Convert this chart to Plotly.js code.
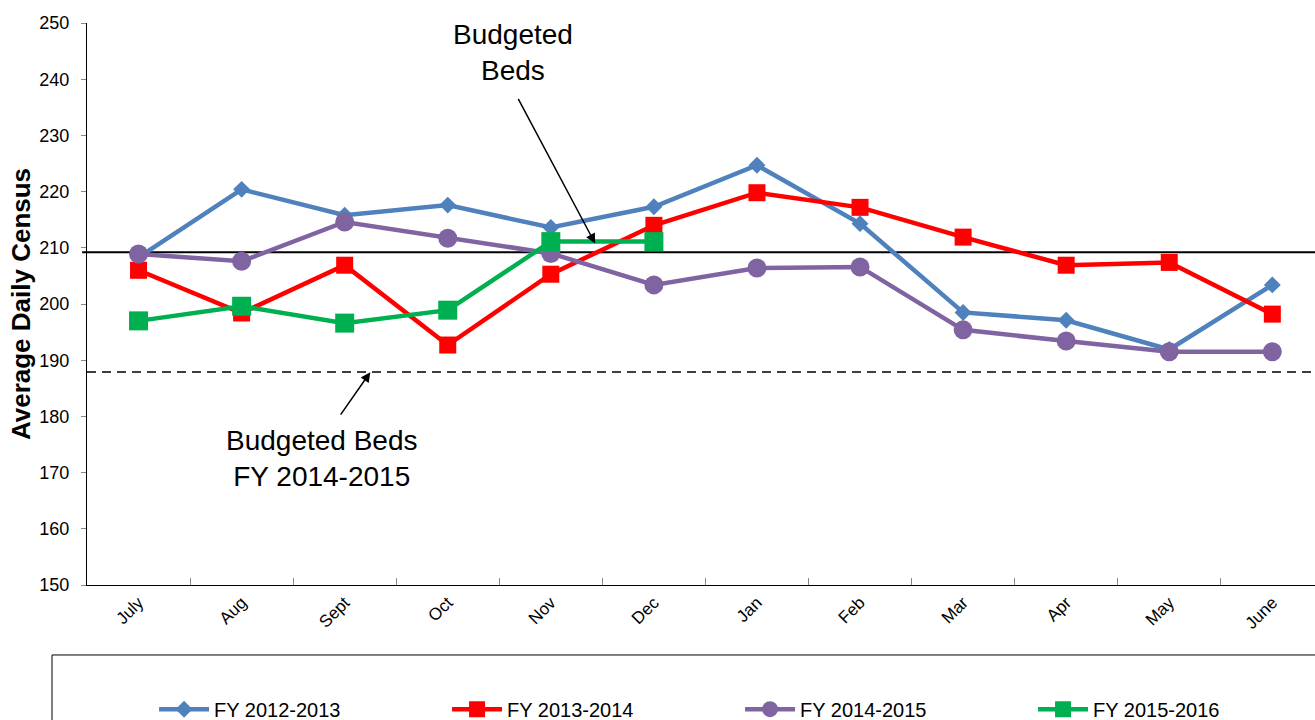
<!DOCTYPE html>
<html>
<head>
<meta charset="utf-8">
<script src="https://cdn.plot.ly/plotly-3.0.1.min.js"></script>
<style>
html, body { margin: 0; padding: 0; background: #fff; overflow: hidden; }
#chart { width: 1315px; height: 720px; }
</style>
</head>
<body>
<div id="chart"></div>
<script>
// ---- Data ----
const months = ["July", "Aug", "Sept", "Oct", "Nov", "Dec", "Jan", "Feb", "Mar", "Apr", "May", "June"];
const fy2012_2013 = [208.3, 220.4, 215.8, 217.6, 213.6, 217.3, 224.7, 214.3, 198.5, 197.1, 191.9, 203.4];
const fy2013_2014 = [206.0, 198.4, 206.9, 192.7, 205.3, 214.0, 219.8, 217.2, 211.9, 206.9, 207.4, 198.2];
const fy2014_2015 = [208.9, 207.6, 214.6, 211.7, 209.0, 203.4, 206.4, 206.6, 195.4, 193.4, 191.5, 191.5];
const fy2015_2016 = [197.0, 199.6, 196.6, 198.9, 211.1, 211.1];
const budgetedBeds = 209.2;
const budgetedBeds2014_2015 = 187.9;

const FONT = "Liberation Sans, Arial, sans-serif";

function series(name, y, color, symbol, size) {
  return {
    type: "scatter", mode: "lines+markers", name: name,
    x: months.slice(0, y.length), y: y,
    line: { color: color, width: 4.5 },
    marker: { color: color, symbol: symbol, size: size },
    hoverinfo: "x+y+name"
  };
}

const traces = [
  series("FY 2012-2013", fy2012_2013, "#4F81BD", "diamond", 13),
  series("FY 2013-2014", fy2013_2014, "#FF0000", "square", 17),
  series("FY 2014-2015", fy2014_2015, "#8064A2", "circle", 19),
  series("FY 2015-2016", fy2015_2016, "#00B050", "square", 19)
];

const layout = {
  width: 1315, height: 720,
  margin: { l: 87, r: 0, t: 23, b: 135, autoexpand: false },
  paper_bgcolor: "#fff", plot_bgcolor: "#fff",
  font: { family: FONT, color: "#000" },
  showlegend: true,
  legend: {
    orientation: "h", x: 0.0546, xanchor: "left", y: -0.221, yanchor: "middle",
    itemwidth: 50, entrywidth: 228, entrywidthmode: "pixels",
    font: { family: FONT, size: 20, color: "#000" },
    bgcolor: "rgba(0,0,0,0)", borderwidth: 0, traceorder: "normal"
  },
  xaxis: {
    type: "category", categoryorder: "array", categoryarray: months,
    range: [-0.5, 11.414],
    showline: true, linecolor: "#000", linewidth: 1,
    ticks: "inside", tickson: "boundaries", ticklen: 7, tickcolor: "#888",
    tickangle: -45, tickfont: { family: FONT, size: 17, color: "#000" },
    showgrid: false, zeroline: false, fixedrange: true
  },
  yaxis: {
    range: [150, 250], dtick: 10, tick0: 150,
    showline: true, linecolor: "#000", linewidth: 1,
    ticks: "outside", ticklen: 5, tickcolor: "#888",
    tickfont: { family: FONT, size: 18, color: "#000" },
    ticklabelstandoff: 8,
    showgrid: false, zeroline: false, fixedrange: true,
    title: { text: "Average Daily Census", font: { family: FONT, size: 26, color: "#000", weight: "bold" }, standoff: 1 }
  },
  shapes: [
    { type: "line", xref: "paper", yref: "y", x0: -0.004, x1: 1.02, y0: budgetedBeds, y1: budgetedBeds,
      line: { color: "#000", width: 2 }, layer: "below" },
    { type: "line", xref: "paper", yref: "y", x0: 0, x1: 1.02, y0: budgetedBeds2014_2015, y1: budgetedBeds2014_2015,
      line: { color: "#000", width: 1.6, dash: "9px,6px" }, layer: "below" },
    { type: "rect", xref: "paper", yref: "paper", x0: -0.0285, x1: 1.05, y0: -0.1245, y1: -0.5,
      line: { color: "#000", width: 1 }, fillcolor: "rgba(0,0,0,0)" }
  ],
  annotations: [
    { xref: "paper", yref: "paper", x: 0.347, y: 0.947, xanchor: "center", yanchor: "middle",
      text: "Budgeted<br>Beds", showarrow: false, font: { family: FONT, size: 28, color: "#000" } },
    { xref: "paper", yref: "paper", x: 0.4138, y: 0.6077, text: "", showarrow: true,
      ax: -77.7, ay: -146, arrowhead: 2, arrowsize: 1.3, arrowwidth: 1.5, arrowcolor: "#000", standoff: 0 },
    { xref: "paper", yref: "paper", x: 0.1915, y: 0.225, xanchor: "center", yanchor: "middle",
      text: "Budgeted Beds<br>FY 2014-2015", showarrow: false, font: { family: FONT, size: 28, color: "#000" } },
    { xref: "paper", yref: "paper", x: 0.2307, y: 0.3787, text: "", showarrow: true,
      ax: -30.7, ay: 44, arrowhead: 2, arrowsize: 1.3, arrowwidth: 1.5, arrowcolor: "#000", standoff: 0 }
  ]
};

Plotly.newPlot("chart", traces, layout, { displayModeBar: false });
</script>
</body>
</html>
